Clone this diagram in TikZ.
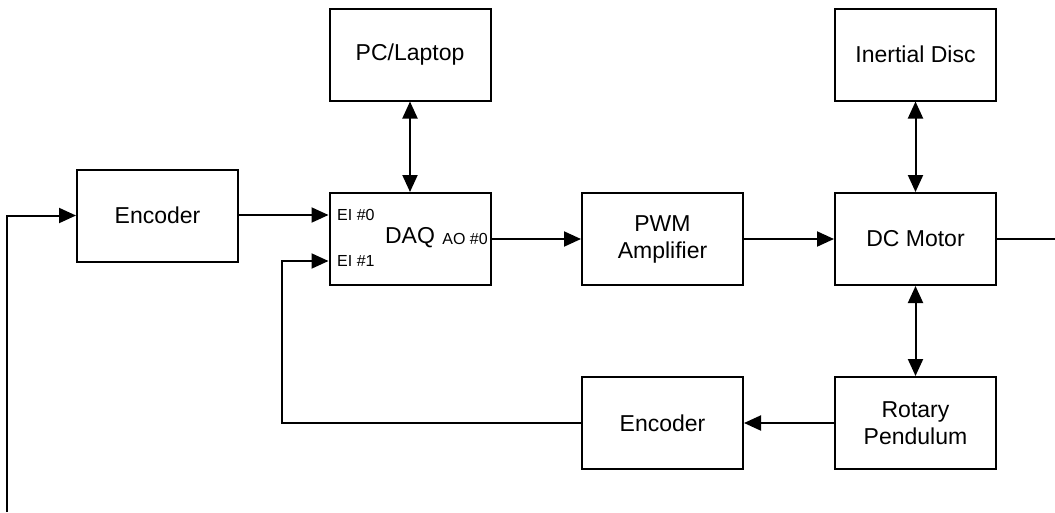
\documentclass[tikz,border=0pt]{standalone}
\usepackage{fontspec}
\setmainfont{Liberation Sans}
\usetikzlibrary{arrows.meta}
\begin{document}
\begin{tikzpicture}[x=1pt,y=-1pt,
  block/.style={draw,line width=2pt,minimum width=161pt,minimum height=92pt,
    inner sep=0pt,align=center,font=\fontsize{23}{27}\selectfont},
  port/.style={inner sep=0pt,font=\fontsize{16}{18}\selectfont},
  wire/.style={line width=2pt},
  sig/.style={wire,-{Triangle[length=17pt,width=15pt]}},
  bidir/.style={wire,{Triangle[length=17pt,width=15pt]}-{Triangle[length=17pt,width=15pt]}}]
\useasboundingbox (0,0) rectangle (1055,512);

% blocks
\node[block] (pc)   at (410,54.5)   {PC/Laptop};
\node[block] (disc) at (915.5,54.5) {Inertial Disc};
\node[block] (encl) at (157.5,215.5) {Encoder};
\node[block] (daq)  at (410,239)    {};
\node[block] (pwm)  at (662.5,239)  {PWM\\Amplifier};
\node[block] (dcm)  at (915.5,239)  {DC Motor};
\node[block] (encb) at (662.5,423)  {Encoder};
\node[block] (pend) at (915.5,423)  {Rotary\\Pendulum};

% DAQ labels and ports
\node[inner sep=0pt,font=\fontsize{23}{27}\selectfont] (daqlbl) at (410,238) {DAQ};
\node[port,anchor=west] (ei0) at (337,215) {EI \#0};
\node[port,anchor=west] (ei1) at (337,261) {EI \#1};
\node[port,anchor=east] (ao0) at (488,239) {AO \#0};
\coordinate (ei0in) at (daq.west |- ei0);
\coordinate (ei1in) at (daq.west |- ei1);
\coordinate (ao0out) at (daq.east |- ao0);

% free ends of the open lines
\coordinate (leftfoot) at (7,512);
\coordinate (rightend) at (1055,239);
\coordinate (fbcorner) at (282,423);

% connectors
\draw[bidir] (pc.south) -- (daq.north);
\draw[bidir] (disc.south) -- (dcm.north);
\draw[bidir] (dcm.south) -- (pend.north);
\draw[sig] (encl.east |- ei0in) -- (ei0in);
\draw[sig] (ao0out) -- (pwm.west |- ao0out);
\draw[sig] (pwm.east) -- (dcm.west);
\draw[wire] (dcm.east) -- (rightend);
\draw[sig] (pend.west) -- (encb.east);
\draw[sig] (encb.west) -- (fbcorner) |- (ei1in);
\draw[sig] (leftfoot) |- (encl.west);
\end{tikzpicture}
\end{document}
